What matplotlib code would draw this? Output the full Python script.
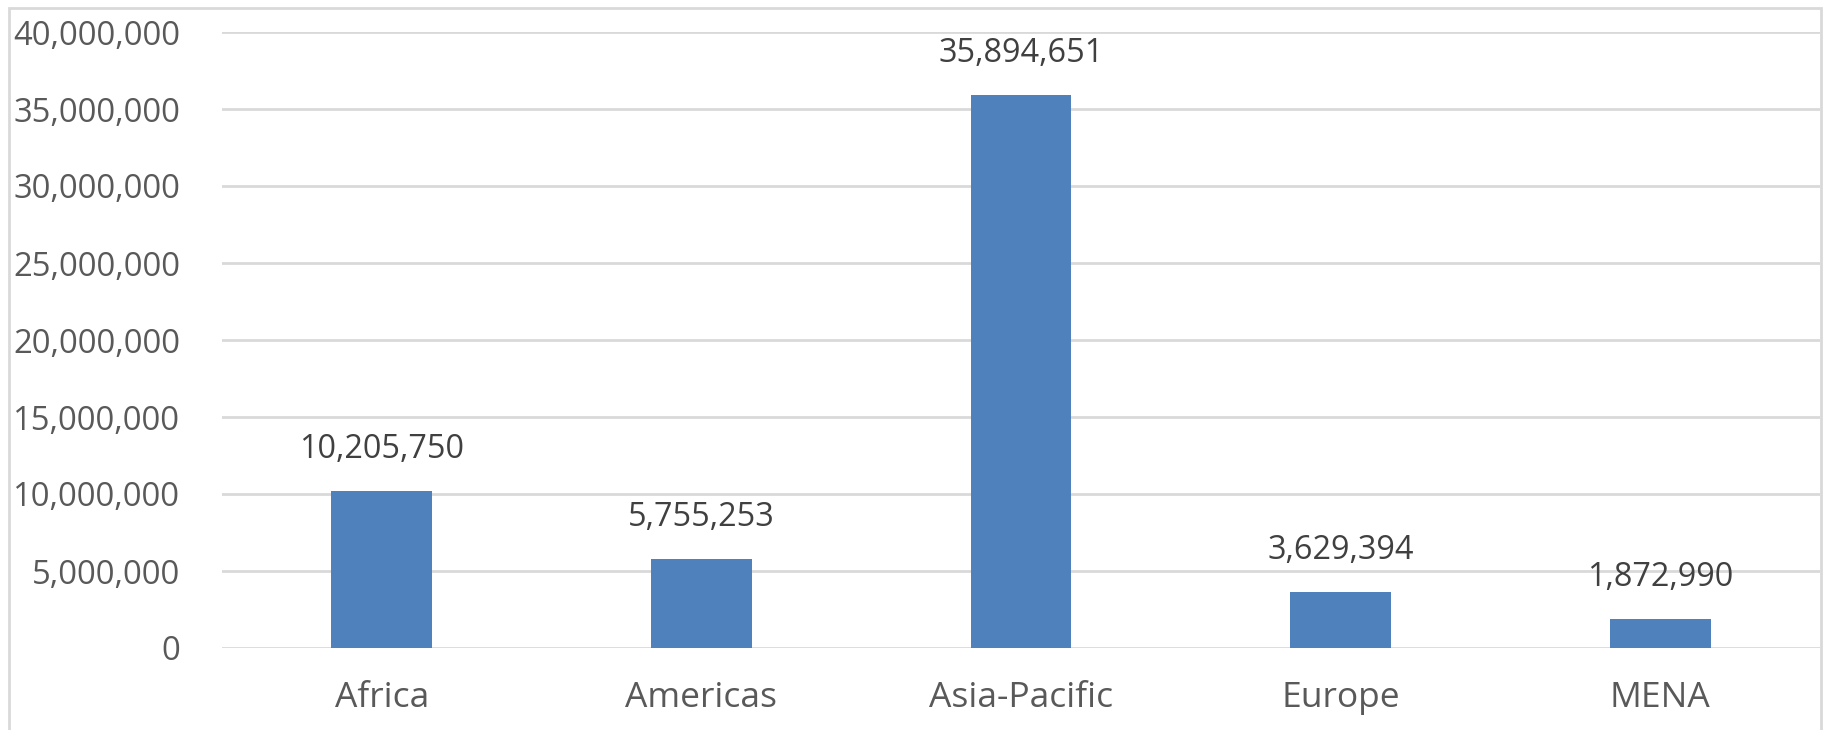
import matplotlib.pyplot as plt
from matplotlib.patches import Rectangle
from matplotlib.ticker import FuncFormatter

## Data
regions = ['Africa', 'Americas', 'Asia-Pacific', 'Europe', 'MENA']
values = [10205750, 5755253, 35894651, 3629394, 1872990]
y_ticks = [0, 5000000, 10000000, 15000000, 20000000, 25000000, 30000000, 35000000, 40000000]

plt.rcParams['font.family'] = ['Open Sans', 'DejaVu Sans']

bar_color = '#4F81BD'
grid_color = '#D9D9D9'
tick_color = '#595959'
label_color = '#404040'

fig = plt.figure(figsize=(18.27, 7.30), dpi=100)
ax = fig.add_axes([222 / 1827, 82 / 730, (1820 - 222) / 1827, (698 - 82) / 730])

x = list(range(len(regions)))
bars = ax.bar(x, values, width=0.316, color=bar_color, zorder=3)

# data labels above bars
for xi, v in zip(x, values):
    ax.annotate(f'{v:,}', (xi, v), xytext=(0, 18), textcoords='offset points',
                ha='center', va='bottom', fontsize=23.3, color=label_color)

ax.set_xlim(-0.5, len(regions) - 0.5)
ax.set_ylim(0, 40000000)
ax.set_yticks(y_ticks)
ax.yaxis.set_major_formatter(FuncFormatter(lambda v, p: f'{int(v):,}'))
ax.set_xticks(x)
ax.set_xticklabels(regions)

ax.grid(axis='y', color=grid_color, linewidth=2, zorder=0)
ax.tick_params(axis='both', length=0, colors=tick_color)
ax.tick_params(axis='y', pad=30, labelsize=23.6)
ax.tick_params(axis='x', pad=24, labelsize=25.5)
for s in ax.spines.values():
    s.set_visible(False)

# outer chart border
fig.patches.append(Rectangle((9 / 1827, -0.05), (1821 - 9) / 1827, (722 / 730) + 0.05,
                             transform=fig.transFigure, fill=False,
                             edgecolor=grid_color, linewidth=2, clip_on=False))

fig.savefig('out.png', dpi=100)
plt.close('all')
